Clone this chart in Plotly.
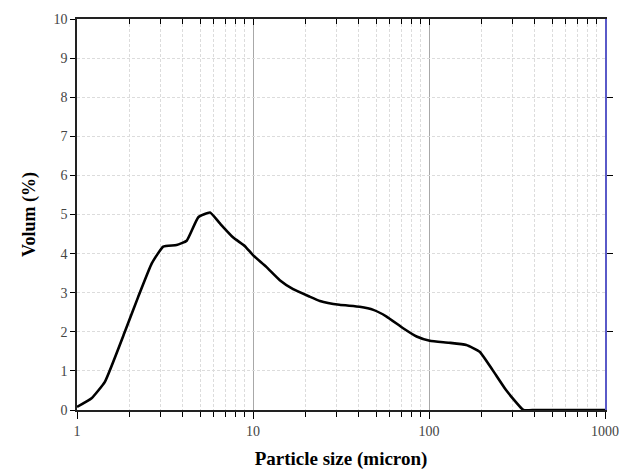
import plotly.graph_objects as go

# Particle size distribution (volume %) on a log size axis
size_um = [1.0, 1.21, 1.44, 1.87, 2.23, 2.66, 3.09, 3.68, 4.2, 4.89, 5.7, 6.49, 7.72, 9.0,
           10.0, 11.9, 14.2, 16.9, 21.0, 24.0, 31.0, 40.4, 48.3, 57.4, 71.3, 85.0, 101.0,
           130.0, 163.0, 194.0, 230.0, 274.0, 344.0, 400.0, 600.0, 1000.0]
volume_pct = [0.08, 0.3, 0.72, 2.0, 2.9, 3.75, 4.18, 4.22, 4.33, 4.93, 5.05, 4.77, 4.41, 4.19,
              3.96, 3.66, 3.32, 3.09, 2.9, 2.79, 2.69, 2.64, 2.56, 2.39, 2.09, 1.88, 1.77,
              1.72, 1.66, 1.49, 1.02, 0.51, 0.0, 0.0, 0.0, 0.0]

x_tick_vals = [1, 10, 100, 1000]
x_tick_text = ["1", "10", "100", "1000"]
x_minor_vals = [d * 10 ** k for k in range(3) for d in range(2, 10)]
y_tick_vals = list(range(0, 11))

serif = "Liberation Serif"
grid_dash = "#dcdcdc"
dash_pattern = "3px,2px"

fig = go.Figure()
fig.add_trace(go.Scatter(
    x=size_um, y=volume_pct, mode="lines",
    line=dict(color="black", width=2.6, shape="spline", smoothing=0.4),
    showlegend=False, hoverinfo="x+y",
))
# invisible trace to anchor the mirrored top/right axes
fig.add_trace(go.Scatter(x=[1, 1000], y=[0, 10], xaxis="x2", yaxis="y2",
                         mode="markers", marker=dict(opacity=0), showlegend=False,
                         hoverinfo="skip"))

fig.update_layout(
    width=619, height=475,
    margin=dict(l=77, r=14, t=19, b=65),
    paper_bgcolor="white", plot_bgcolor="white",
    font=dict(family=serif, size=14, color="#333"),
    xaxis=dict(
        type="log", range=[0, 3], automargin=False,
        tickmode="array", tickvals=x_tick_vals, ticktext=x_tick_text,
        ticks="outside", ticklen=7, tickwidth=1, tickcolor="black",
        showline=True, linecolor="#222", linewidth=1.5,
        showgrid=True, gridcolor="#a8a8a8", gridwidth=1,
        minor=dict(tickmode="array", tickvals=x_minor_vals, ticks="outside",
                   ticklen=5, tickcolor="black", showgrid=True,
                   gridcolor=grid_dash, griddash=dash_pattern),
        zeroline=False,
        title=dict(text="<b>Particle size (micron)</b>",
                   font=dict(family=serif, size=19, color="black"), standoff=14),
        tickfont=dict(family=serif, size=14, color="#444"),
    ),
    xaxis2=dict(
        type="log", range=[0, 3], overlaying="x", side="top", automargin=False,
        tickmode="array", tickvals=x_tick_vals, showticklabels=False,
        ticks="inside", ticklen=6, tickcolor="black",
        minor=dict(tickmode="array", tickvals=x_minor_vals, ticks="inside",
                   ticklen=5, tickcolor="black", showgrid=False),
        showline=True, linecolor="#222", linewidth=1.5, showgrid=False, zeroline=False,
    ),
    yaxis=dict(
        range=[0, 10], tickmode="array", tickvals=y_tick_vals, automargin=False,
        ticks="outside", ticklen=5, tickcolor="black",
        showline=True, linecolor="#222", linewidth=1.5,
        showgrid=True, gridcolor=grid_dash, griddash=dash_pattern,
        zeroline=False,
        title=dict(text="<b>Volum (%)</b>",
                   font=dict(family=serif, size=18, color="black"), standoff=13),
        tickfont=dict(family=serif, size=14, color="#444"),
    ),
    yaxis2=dict(
        range=[0, 10], overlaying="y", side="right", anchor="x2", automargin=False,
        tickmode="array", tickvals=[2, 4, 6, 8], showticklabels=False,
        ticks="outside", ticklen=6, tickcolor="black",
        showline=True, linecolor="#5a5ac8", linewidth=1.5,
        showgrid=False, zeroline=False,
    ),
)

fig.write_html("out.html")
